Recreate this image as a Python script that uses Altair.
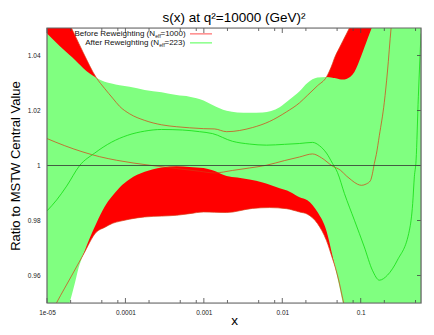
import altair as alt
import pandas as pd

FONT = "Liberation Sans"

# ---- Before reweighting (red band) ----
before_x = [1.00e-5, 1.32e-5, 1.68e-5, 2.05e-5, 2.26e-5, 2.88e-5, 4.26e-5, 5.43e-5, 6.87e-5, 8.44e-5,
            1.13e-4, 1.76e-4, 2.89e-4, 4.49e-4, 6.58e-4, 9.91e-4, 1.37e-3, 1.95e-3, 4.17e-3, 6.86e-3,
            1.13e-2, 1.66e-2, 2.09e-2, 2.81e-2, 3.66e-2, 4.36e-2, 4.62e-2, 5.35e-2, 5.90e-2, 6.57e-2,
            7.18e-2, 9.62e-2, 0.173, 0.587]
before_hi = [1.068, 1.061, 1.0552, 1.050, 1.0475, 1.0412, 1.0319, 1.0280, 1.0245, 1.0215,
             1.0188, 1.0164, 1.0148, 1.0141, 1.0137, 1.0134, 1.0133, 1.0123, 1.0138, 1.0160,
             1.0195, 1.0228, 1.0255, 1.0290, 1.0322, 1.0370, 1.0390, 1.0428, 1.0452, 1.0478,
             1.0500, 1.058, 1.075, 1.10]
before_lo = [0.943, 0.950, 0.9554, 0.9598, 0.962, 0.9674, 0.9758, 0.9775, 0.9790, 0.9797,
             0.9805, 0.9813, 0.9816, 0.9819, 0.9825, 0.9831, 0.9830, 0.9829, 0.9844, 0.9847,
             0.9843, 0.9831, 0.9823, 0.9789, 0.9727, 0.9662, 0.9640, 0.9572, 0.9515, 0.9460,
             0.942, 0.93, 0.91, 0.88]

# ---- After reweighting (green band) ----
after_x = [1.00e-5, 1.45e-5, 1.94e-5, 2.26e-5, 2.54e-5, 2.88e-5, 4.26e-5, 5.43e-5, 6.67e-5, 8.44e-5,
           1.13e-4, 1.76e-4, 2.89e-4, 4.49e-4, 6.58e-4, 9.91e-4, 1.29e-3, 1.95e-3, 2.67e-3, 3.82e-3,
           5.62e-3, 9.25e-3, 1.24e-2, 1.66e-2, 2.09e-2, 2.81e-2, 3.66e-2, 4.36e-2, 4.62e-2, 5.35e-2,
           5.90e-2, 6.57e-2, 8.31e-2, 0.102, 0.122, 0.138, 0.173, 0.587]
after_hi = [1.048, 1.0435, 1.0402, 1.0385, 1.0370, 1.0355, 1.0319, 1.0305, 1.0298, 1.0292,
            1.0286, 1.0275, 1.0266, 1.0256, 1.0250, 1.0236, 1.0220, 1.0199, 1.0193, 1.0192,
            1.0193, 1.0212, 1.0240, 1.0270, 1.0300, 1.0320, 1.0322, 1.0319, 1.0318, 1.0314,
            1.0313, 1.0315, 1.0340, 1.0400, 1.0460, 1.0500, 1.058, 1.10]
after_lo = [0.925, 0.938, 0.950, 0.9571, 0.9630, 0.9674, 0.9790, 0.9850, 0.9886, 0.9920,
            0.9950, 0.9977, 0.9993, 0.9997, 0.9995, 0.9991, 0.9983, 0.9962, 0.9956, 0.9949,
            0.9938, 0.9917, 0.9905, 0.9885, 0.9874, 0.9831, 0.9762, 0.9672, 0.9640, 0.9559,
            0.9500, 0.944, 0.932, 0.925, 0.92, 0.915, 0.91, 0.88]

# ---- Central values ----
before_cx = [1.00e-5, 1.68e-5, 2.88e-5, 4.69e-5, 7.73e-5, 2.03e-4, 4.49e-4, 8.81e-4, 1.37e-3, 2.32e-3,
             3.82e-3, 6.29e-3, 1.07e-2, 1.66e-2, 2.43e-2, 3.16e-2, 4.36e-2, 5.51e-2, 6.57e-2, 7.61e-2,
             9.08e-2, 0.102, 0.118, 0.133, 0.141, 0.149, 0.158, 0.173, 0.200, 0.219, 0.244, 0.261]
before_cy = [1.0098, 1.0072, 1.0049, 1.0032, 1.0019, 1.0001, 0.9989, 0.9979, 0.9973, 0.9982,
             0.9991, 1.0001, 1.0018, 1.0031, 1.0042, 1.0028, 0.9998, 0.9983, 0.9962, 0.9947,
             0.9932, 0.9928, 0.9933, 0.9945, 0.9970, 1.0007, 1.0040, 1.0110, 1.0230, 1.0340, 1.0500, 1.058]
after_cx = [1.00e-5, 1.33e-5, 1.78e-5, 2.61e-5, 4.05e-5, 6.67e-5, 1.07e-4, 1.76e-4, 2.89e-4, 5.35e-4,
            8.81e-4, 1.29e-3, 2.32e-3, 3.82e-3, 6.29e-3, 1.07e-2, 1.66e-2, 2.43e-2, 2.98e-2, 3.66e-2,
            4.36e-2, 5.05e-2, 6.20e-2, 8.31e-2, 0.111, 0.141, 0.173, 0.219, 0.294, 0.418,
            0.460, 0.483, 0.508, 0.543, 0.587]
after_cy = [0.9835, 0.9875, 0.9925, 1.0000, 1.0045, 1.0085, 1.0110, 1.0125, 1.0131, 1.0129,
            1.0123, 1.0116, 1.0088, 1.0078, 1.0074, 1.0077, 1.0080, 1.0084, 1.0072, 1.0045,
            1.0008, 0.9975, 0.9898, 0.9801, 0.9704, 0.9619, 0.9583, 0.9601, 0.9656, 0.9765,
            0.9862, 0.9959, 1.0019, 1.025, 1.048]

# ---- Axis ticks ----
x_major = [1e-5, 1e-4, 1e-3, 1e-2, 1e-1]
x_minor = [2e-5, 5e-5, 8e-5, 2e-4, 5e-4, 8e-4, 2e-3, 5e-3, 8e-3, 2e-2, 5e-2, 8e-2, 0.2, 0.5]
y_major = [0.96, 0.98, 1.0, 1.02, 1.04]
ref_line = [1.0]

title_text = "s(x) at q\u00b2=10000 (GeV)\u00b2"
legend_before = ["Before Reweighting (N", "eff", "=1000)"]
legend_after = ["After Reweighting (N", "eff", "=223)"]

W, H = 374, 275

xs = alt.Scale(type="log", domain=[1e-5, 0.587], nice=False)
ys = alt.Scale(domain=[0.95, 1.05], nice=False, zero=False)

x_axis = alt.Axis(values=x_major,
                  labelExpr="datum.value < 2e-5 ? '1e-05' : toString(datum.value)",
                  ticks=False, tickSize=0, domain=False, grid=False,
                  labelFont=FONT, labelFontSize=6.5, labelColor="#222",
                  labelPadding=11, labelBaseline="alphabetic", labelFlush=False, labelOverlap=False,
                  title="x", titleFont=FONT, titleFontSize=13.5, titleFontWeight="normal",
                  titleColor="#000", titleX=W / 2, titleY=21, titleBaseline="alphabetic",
                  titleAlign="center")
y_axis = alt.Axis(values=y_major, format="~g",
                  ticks=False, tickSize=0, domain=False, grid=False,
                  labelFont=FONT, labelFontSize=6.5, labelColor="#222", labelPadding=7,
                  labelOverlap=False,
                  title="Ratio to MSTW Central Value", titleFont=FONT, titleFontSize=13,
                  titleFontWeight="normal", titleColor="#000", titleX=-27.5, titleY=H / 2,
                  titleAngle=-90, titleBaseline="alphabetic", titleAlign="center")

X = alt.X("x:Q", scale=xs, axis=x_axis)
Y = alt.Y("y:Q", scale=ys, axis=y_axis)

before_band = pd.DataFrame({"x": before_x, "y": before_hi, "lo": before_lo})
after_band = pd.DataFrame({"x": after_x, "y": after_hi, "lo": after_lo})
before_hi_df = pd.DataFrame({"x": before_x, "y": before_hi})
before_lo_df = pd.DataFrame({"x": before_x, "y": before_lo})
before_c = pd.DataFrame({"x": before_cx, "y": before_cy})
after_c = pd.DataFrame({"x": after_cx, "y": after_cy})
one = pd.DataFrame({"a": [0]})

RED_LINE = "#d83a14"
GREEN_LINE = "#10dd10"

layers = []
layers.append(alt.Chart(before_band).mark_area(color="#ff0000", clip=True, interpolate="monotone")
              .encode(x=X, y=Y, y2="lo:Q"))
layers.append(alt.Chart(after_band).mark_area(color="#80ff80", clip=True, interpolate="monotone")
              .encode(x=X, y=Y, y2="lo:Q"))
for df in (before_hi_df, before_lo_df, before_c):
    layers.append(alt.Chart(df).mark_line(color=RED_LINE, strokeWidth=0.7, clip=True,
                                          interpolate="monotone").encode(x=X, y=Y))
layers.append(alt.Chart(after_c).mark_line(color=GREEN_LINE, strokeWidth=0.8, clip=True,
                                           interpolate="monotone").encode(x=X, y=Y))
layers.append(alt.Chart(pd.DataFrame({"y": ref_line})).mark_rule(color="#333333", strokeWidth=0.8)
              .encode(y=Y))

# ticks (gnuplot style, pointing inward)
maj = pd.DataFrame({"x": x_major})
mnr = pd.DataFrame({"x": x_minor})
for df, ln in ((maj, 5), (mnr, 3)):
    layers.append(alt.Chart(df).mark_rule(color="#444444", strokeWidth=0.8)
                  .encode(x=X, y=alt.value(H), y2=alt.value(H - ln)))
    layers.append(alt.Chart(df).mark_rule(color="#444444", strokeWidth=0.8)
                  .encode(x=X, y=alt.value(0), y2=alt.value(ln)))
layers.append(alt.Chart(pd.DataFrame({"y": y_major})).mark_rule(color="#444444", strokeWidth=0.8)
              .encode(y=Y, x=alt.value(W), x2=alt.value(W - 4)))

# border
layers.append(alt.Chart(one).mark_rect(fillOpacity=0, stroke="#666666", strokeWidth=1.2)
              .encode(x=alt.value(0), x2=alt.value(W), y=alt.value(0), y2=alt.value(H)))

# chart title as a text mark above the plot
layers.append(alt.Chart(one).mark_text(align="center", baseline="alphabetic", font=FONT,
                                       fontSize=13.5, color="#000", text=title_text)
              .encode(x=alt.value(W / 2), y=alt.value(-6)))

# legend (text left, line sample right)
rows = [(legend_before, 108, 113.5, 5.9, "#ff0000"), (legend_after, 112, 117.5, 14.9, "#00ff00")]
for texts, xend, xtail, yy, col in rows:
    layers.append(alt.Chart(one).mark_text(align="right", baseline="middle", font=FONT, fontSize=8,
                                           color="#111", text=texts[0])
                  .encode(x=alt.value(xend), y=alt.value(yy)))
    layers.append(alt.Chart(one).mark_text(align="left", baseline="middle", font=FONT, fontSize=5,
                                           color="#111", text=texts[1])
                  .encode(x=alt.value(xend + 0.3), y=alt.value(yy + 1.6)))
    layers.append(alt.Chart(one).mark_text(align="left", baseline="middle", font=FONT, fontSize=8,
                                           color="#111", text=texts[2])
                  .encode(x=alt.value(xtail), y=alt.value(yy)))
    layers.append(alt.Chart(one).mark_rule(color=col, strokeWidth=0.7)
                  .encode(x=alt.value(143), x2=alt.value(165), y=alt.value(yy)))

chart = alt.layer(*layers).properties(
    width=W, height=H,
    autosize=alt.AutoSizeParams(type="none"),
    padding={"left": 39, "top": 20, "right": 5, "bottom": 24},
).configure_view(strokeWidth=0).configure(background="white")

chart.save("out.html", embed_options={"renderer": "svg", "actions": False})
